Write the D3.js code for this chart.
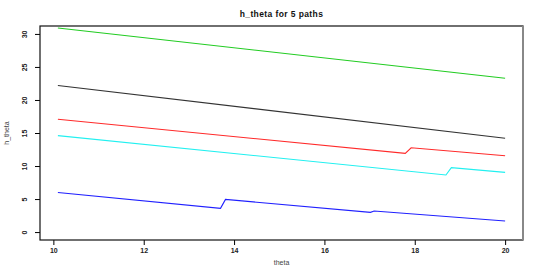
<!DOCTYPE html>
<html>
<head>
<meta charset="utf-8">
<script src="https://cdn.jsdelivr.net/npm/d3@7"></script>
<style>
body { margin: 0; background: #fff; }
text { font-family: "Liberation Sans", Arial, sans-serif; }
</style>
</head>
<body>
<div class="content"></div>
<script>
var size = {width: 545, height: 273};
var padding = {left: 40, right: 22, top: 26, bottom: 33};

// theta values and h_theta for each of the 5 paths
var green = [[10.1,30.9],[20,23.3]];
var black = [[10.1,22.2],[20,14.2]];
var red   = [[10.1,17.08],[17.79,11.92],[17.92,12.77],[20,11.56]];
var cyan  = [[10.1,14.6],[18.69,8.64],[18.81,9.75],[20,9.04]];
var blue  = [[10.1,6.0],[13.7,3.59],[13.81,4.95],[17.02,2.98],[17.1,3.18],[20,1.67]];
var paths = [green, black, red, cyan, blue];
var colors = ["#22cc22", "#333333", "#ff2a2a", "#22f0f0", "#2020ff"];

var xTicks = [10, 12, 14, 16, 18, 20];
var yTicks = [0, 5, 10, 15, 20, 25, 30];

var chart = d3.select('.content')
    .append('svg')
    .attr('width', size.width)
    .attr('height', size.height);

var xScale = d3.scaleLinear()
    .domain([9.704, 20.396])
    .range([padding.left, size.width - padding.right]);
var yScale = d3.scaleLinear()
    .domain([-1.2, 31.2])
    .range([size.height - padding.bottom, padding.top]);

var xAxis = d3.axisBottom(xScale).tickValues(xTicks).tickSize(5).tickPadding(3);
chart.append('g')
    .attr('transform', 'translate(0,' + (size.height - padding.bottom) + ')')
    .call(xAxis)
    .call(function(g) {
        g.select('.domain').remove();
        g.selectAll('line').attr('stroke', '#000');
        g.selectAll('text').attr('font-size', 7).attr('font-weight', 'bold').style('fill', '#222');
    });

var yAxis = d3.axisLeft(yScale).tickValues(yTicks).tickSize(5).tickPadding(3);
chart.append('g')
    .attr('transform', 'translate(' + padding.left + ',0)')
    .call(yAxis)
    .call(function(g) {
        g.select('.domain').remove();
        g.selectAll('line').attr('stroke', '#000');
        g.selectAll('text')
            .attr('font-size', 7).attr('font-weight', 'bold').style('fill', '#222')
            .attr('text-anchor', 'middle').attr('dy', null).attr('x', null)
            .attr('transform', 'translate(-13,0) rotate(-90)');
    });

// box
var x0 = padding.left, x1 = size.width - padding.right;
var y0 = padding.top, y1 = size.height - padding.bottom;
chart.append('rect')
    .attr('x', x0).attr('y', y0)
    .attr('width', x1 - x0).attr('height', y1 - y0)
    .attr('fill', 'none').attr('stroke', '#111').attr('stroke-width', 1.2);
chart.append('line')
    .attr('x1', x1).attr('x2', x1).attr('y1', y0).attr('y2', y1)
    .attr('stroke', '#888').attr('stroke-width', 2);

var line = d3.line()
    .x(function(d) { return xScale(d[0]); })
    .y(function(d) { return yScale(d[1]); });

chart.selectAll('path.series')
    .data(paths)
    .enter().append('path')
    .attr('class', 'series')
    .attr('d', line)
    .attr('fill', 'none')
    .attr('stroke', function(d, i) { return colors[i]; })
    .attr('stroke-width', 1.1);

chart.append('text')
    .attr('x', (x0 + x1) / 2).attr('y', 17)
    .attr('text-anchor', 'middle')
    .attr('font-size', 8.5).attr('font-weight', 'bold')
    .attr('letter-spacing', 0.4)
    .style('fill', '#111')
    .text('h_theta for 5 paths');

chart.append('text')
    .attr('x', (x0 + x1) / 2).attr('y', 265)
    .attr('text-anchor', 'middle')
    .attr('font-size', 7).style('fill', '#444')
    .text('theta');

chart.append('text')
    .attr('transform', 'translate(9,' + ((y0 + y1) / 2) + ') rotate(-90)')
    .attr('text-anchor', 'middle')
    .attr('font-size', 7).style('fill', '#444')
    .text('h_theta');
</script>
</body>
</html>
